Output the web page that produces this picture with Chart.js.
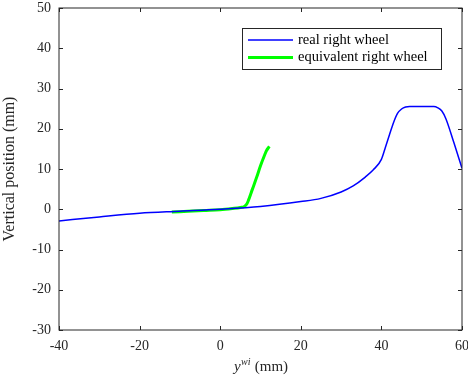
<!DOCTYPE html>
<html>
<head>
<meta charset="utf-8">
<script src="https://cdn.jsdelivr.net/npm/chart.js@4"></script>
<style>
  html, body { margin: 0; padding: 0; background: #fff; }
  #wrap { width: 468px; height: 379px; }
</style>
</head>
<body>
<div id="wrap"><canvas id="myChart" width="468" height="379"></canvas></div>
<script>
const realX = [-40, -30, -20, -10, 0, 10, 20, 25, 30, 33, 36, 38, 40, 41, 42, 43, 44, 45, 46, 47, 50, 53, 54, 55, 56, 58, 60];
const realY = [-2.9, -1.9, -1.0, -0.5, 0, 0.7, 1.9, 2.7, 4.3, 5.8, 8.0, 9.8, 12.4, 15.4, 18.5, 21.5, 23.8, 24.9, 25.4, 25.5, 25.5, 25.5, 25.2, 24.4, 22.5, 16.5, 10.2];
const equivX = [-12, -8, -4, 0, 3, 5, 6, 6.6, 7, 8, 9, 10, 11, 11.5, 12.2];
const equivY = [-0.7, -0.5, -0.3, -0.1, 0.2, 0.45, 0.7, 1.3, 2.2, 5.0, 7.8, 10.8, 13.4, 14.6, 15.6];
const xTicks = [-40, -20, 0, 20, 40, 60];
const yTicks = [-30, -20, -10, 0, 10, 20, 30, 40, 50];

const FONT = "'Liberation Serif', serif";
const AXIS = '#262626';

function pts(xs, ys) {
  return xs.map((x, i) => ({x: x, y: ys[i]}));
}

// box with inward ticks on all sides, matlab style
const boxPlugin = {
  id: 'box',
  afterDraw(chart) {
    const ctx = chart.ctx;
    const a = chart.chartArea;
    const xs = chart.scales.x, ys = chart.scales.y;
    ctx.save();
    ctx.strokeStyle = AXIS;
    ctx.lineWidth = 1;
    ctx.strokeRect(a.left, a.top, a.right - a.left, a.bottom - a.top);
    ctx.beginPath();
    xs.ticks.forEach(t => {
      const px = Math.round(xs.getPixelForValue(t.value)) + 0.5;
      ctx.moveTo(px, a.bottom); ctx.lineTo(px, a.bottom - 4);
      ctx.moveTo(px, a.top); ctx.lineTo(px, a.top + 4);
    });
    ys.ticks.forEach(t => {
      const py = Math.round(ys.getPixelForValue(t.value)) + 0.5;
      ctx.moveTo(a.left, py); ctx.lineTo(a.left + 4, py);
      ctx.moveTo(a.right, py); ctx.lineTo(a.right - 4, py);
    });
    ctx.stroke();

    // x title: y^wi (mm)
    ctx.fillStyle = AXIS;
    ctx.textBaseline = 'alphabetic';
    ctx.textAlign = 'left';
    const cx = (a.left + a.right) / 2;
    const base = 371;
    ctx.font = "italic 15px " + FONT;
    const wY = ctx.measureText('y').width;
    ctx.font = "italic 10px " + FONT;
    const wS = ctx.measureText('wi').width;
    ctx.font = "15px " + FONT;
    const wM = ctx.measureText(' (mm)').width;
    let x0 = cx - (wY + wS + wM) / 2;
    ctx.font = "italic 15px " + FONT;
    ctx.fillText('y', x0, base);
    ctx.font = "italic 10px " + FONT;
    ctx.fillText('wi', x0 + wY + 0.5, base - 6);
    ctx.font = "15px " + FONT;
    ctx.fillText(' (mm)', x0 + wY + wS + 1, base);

    // legend
    const lx = 242, ly = 28, lw = 199, lh = 41;
    ctx.fillStyle = '#fff';
    ctx.fillRect(lx, ly, lw, lh);
    ctx.strokeStyle = AXIS;
    ctx.lineWidth = 1;
    ctx.strokeRect(lx + 0.5, ly + 0.5, lw, lh);
    chart.data.datasets.forEach((ds, i) => {
      const yy = 40 + i * 17.5;
      ctx.strokeStyle = ds.borderColor;
      ctx.lineWidth = ds.borderWidth;
      ctx.beginPath();
      ctx.moveTo(248, yy); ctx.lineTo(293, yy);
      ctx.stroke();
      ctx.fillStyle = '#000';
      ctx.font = "14.5px " + FONT;
      ctx.textBaseline = 'middle';
      ctx.fillText(ds.label, 298, yy);
    });
    ctx.restore();
  }
};

const config = {
  type: 'line',
  data: {
    datasets: [
      {
        label: 'real right wheel',
        data: pts(realX, realY),
        borderColor: 'rgb(0, 0, 255)',
        borderWidth: 1.5,
        pointRadius: 0,
        cubicInterpolationMode: 'monotone',
        fill: false
      },
      {
        label: 'equivalent right wheel',
        data: pts(equivX, equivY),
        borderColor: 'rgb(0, 255, 0)',
        borderWidth: 3,
        pointRadius: 0,
        cubicInterpolationMode: 'monotone',
        fill: false
      }
    ]
  },
  options: {
    responsive: false,
    animation: false,
    layout: { padding: { left: 0, right: 6, top: 8, bottom: 0 } },
    plugins: {
      legend: { display: false },
      tooltip: { enabled: false }
    },
    scales: {
      x: {
        type: 'linear',
        min: -40, max: 60,
        grid: { display: true, drawOnChartArea: false, drawTicks: false },
        border: { display: false },
        afterBuildTicks: s => { s.ticks = xTicks.map(v => ({value: v})); },
        afterFit: s => { s.height = 49; s.paddingLeft = 0; s.paddingRight = 0; },
        ticks: {
          padding: 8,
          color: AXIS,
          font: { family: FONT, size: 14 },
          maxRotation: 0,
          callback: v => v < 0 ? '-' + Math.abs(v) : String(v)
        }
      },
      y: {
        type: 'linear',
        min: -30, max: 50,
        grid: { display: true, drawOnChartArea: false, drawTicks: false },
        border: { display: false },
        afterBuildTicks: s => { s.ticks = yTicks.map(v => ({value: v})); },
        afterFit: s => { s.width = 59; s.paddingTop = 0; s.paddingBottom = 0; },
        title: {
          display: true,
          text: 'Vertical position (mm)',
          color: AXIS,
          font: { family: FONT, size: 16 },
          padding: { top: 0, bottom: 2 }
        },
        ticks: {
          padding: 8,
          color: AXIS,
          font: { family: FONT, size: 14 },
          callback: v => v < 0 ? '-' + Math.abs(v) : String(v)
        }
      }
    }
  },
  plugins: [boxPlugin]
};

const myChart = new Chart(document.getElementById('myChart'), config);
</script>
</body>
</html>
